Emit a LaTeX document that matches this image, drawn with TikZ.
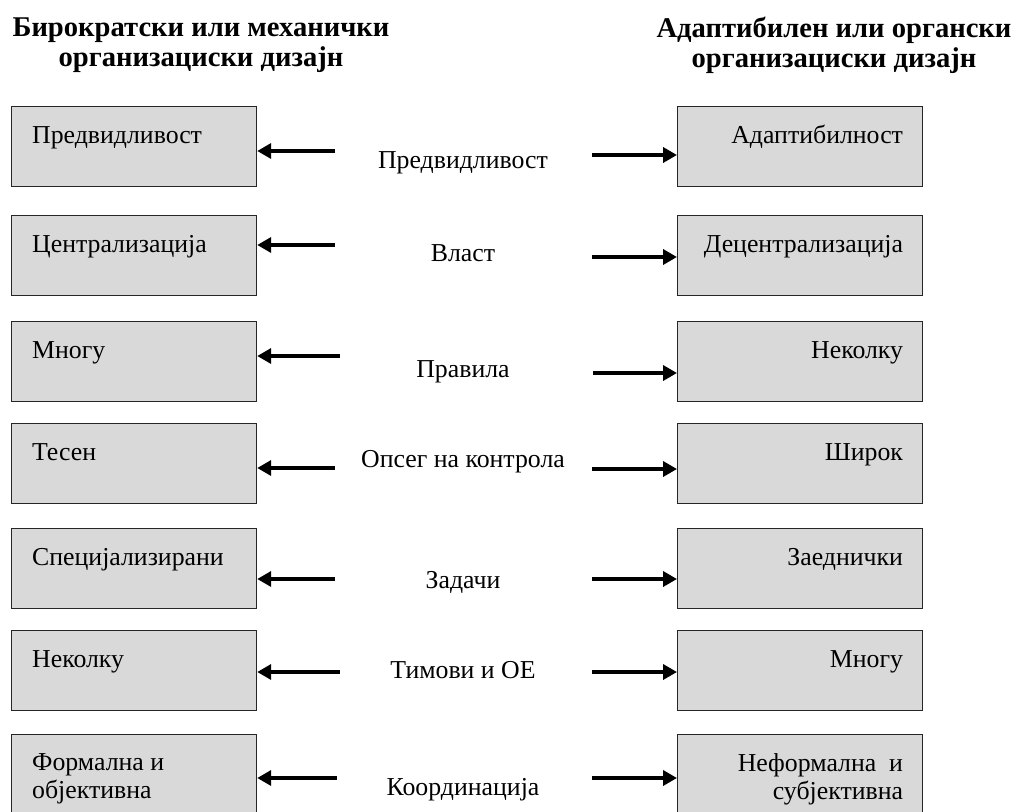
\documentclass[tikz,border=0pt]{standalone}
\usepackage{fontspec}
\setmainfont{Liberation Serif}
\usetikzlibrary{arrows.meta}

\tikzset{
	caja/.style={draw=black!85, line width=1.2pt, fill=black!15, minimum width=245pt, minimum height=80pt, anchor=north west, inner sep=0pt},
	flecha/.style={line width=3.5pt, -{Triangle[length=14pt, width=15pt]}},
	txt/.style={font=\fontsize{25.8}{28}\selectfont, inner sep=0pt},
	tit/.style={font=\fontsize{28.6}{30}\selectfont\bfseries, align=center, inner sep=0pt}
}

\begin{document}
\begin{tikzpicture}[x=1pt, y=-1pt]
		\useasboundingbox (0,0) rectangle (1014,811);
	
		% Encabezados
			\node[tit] (tizq) at (201,45) {Бирократски или механички\\организациски дизајн};
			\node[tit] (tder) at (834,45) {Адаптибилен или органски\\организациски дизајн};
	
		% Cajas izquierda
			\node[caja] (l1) at (11,106) {};
			\node[caja] (l2) at (11,215) {};
			\node[caja] (l3) at (11,321) {};
			\node[caja] (l4) at (11,423) {};
			\node[caja] (l5) at (11,528) {};
			\node[caja] (l6) at (11,630) {};
			\node[caja] (l7) at (11,734) {};
	
		% Cajas derecha
			\node[caja] (r1) at (677,106) {};
			\node[caja] (r2) at (677,215) {};
			\node[caja] (r3) at (677,321) {};
			\node[caja] (r4) at (677,423) {};
			\node[caja] (r5) at (677,528) {};
			\node[caja] (r6) at (677,630) {};
			\node[caja] (r7) at (677,734) {};
	
		% Textos en las cajas
			\node[txt, anchor=base west] (tl1) at ([xshift=21pt, yshift=-37pt]l1.north west) {Предвидливост};
			\node[txt, anchor=base west] (tl2) at ([xshift=21pt, yshift=-37pt]l2.north west) {Централизација};
			\node[txt, anchor=base west] (tl3) at ([xshift=21pt, yshift=-37pt]l3.north west) {Многу};
			\node[txt, anchor=base west] (tl4) at ([xshift=21pt, yshift=-37pt]l4.north west) {Тесен};
			\node[txt, anchor=base west] (tl5) at ([xshift=21pt, yshift=-37pt]l5.north west) {Специјализирани};
			\node[txt, anchor=base west] (tl6) at ([xshift=21pt, yshift=-37pt]l6.north west) {Неколку};
			\node[txt, anchor=north west, align=left] (tl7) at ([xshift=21pt, yshift=-19pt]l7.north west) {Формална и\\објективна};
			\node[txt, anchor=base east] (tr1) at ([xshift=-20pt, yshift=-37pt]r1.north east) {Адаптибилност};
			\node[txt, anchor=base east] (tr2) at ([xshift=-20pt, yshift=-37pt]r2.north east) {Децентрализација};
			\node[txt, anchor=base east] (tr3) at ([xshift=-20pt, yshift=-37pt]r3.north east) {Неколку};
			\node[txt, anchor=base east] (tr4) at ([xshift=-20pt, yshift=-37pt]r4.north east) {Широк};
			\node[txt, anchor=base east] (tr5) at ([xshift=-20pt, yshift=-37pt]r5.north east) {Заеднички};
			\node[txt, anchor=base east] (tr6) at ([xshift=-20pt, yshift=-37pt]r6.north east) {Многу};
			\node[txt, anchor=north east, align=right] (tr7) at ([xshift=-20pt, yshift=-19pt]r7.north east) {Неформална\ \ и\\субјективна};
	
		% Criterios
			\node[txt] (c1) at (463,163) {Предвидливост};
			\node[txt] (c2) at (463,253) {Власт};
			\node[txt] (c3) at (463,372) {Правила};
			\node[txt] (c4) at (463,462) {Опсег на контрола};
			\node[txt] (c5) at (463,582) {Задачи};
			\node[txt] (c6) at (463,670) {Тимови и ОЕ};
			\node[txt] (c7) at (463,790) {Координација};
	
		% Flechas
			\coordinate (al1) at (335,151);  \coordinate (ar1) at (592,155);
			\coordinate (al2) at (335,245);  \coordinate (ar2) at (592,257);
			\coordinate (al3) at (340,356);  \coordinate (ar3) at (593,373);
			\coordinate (al4) at (335,468);  \coordinate (ar4) at (592,469);
			\coordinate (al5) at (335,579);  \coordinate (ar5) at (592,579);
			\coordinate (al6) at (340,672);  \coordinate (ar6) at (592,672);
			\coordinate (al7) at (337,778);  \coordinate (ar7) at (592,778);
			\draw[flecha] (al1) -- (al1 -| l1.east);  \draw[flecha] (ar1) -- (ar1 -| r1.west);
			\draw[flecha] (al2) -- (al2 -| l2.east);  \draw[flecha] (ar2) -- (ar2 -| r2.west);
			\draw[flecha] (al3) -- (al3 -| l3.east);  \draw[flecha] (ar3) -- (ar3 -| r3.west);
			\draw[flecha] (al4) -- (al4 -| l4.east);  \draw[flecha] (ar4) -- (ar4 -| r4.west);
			\draw[flecha] (al5) -- (al5 -| l5.east);  \draw[flecha] (ar5) -- (ar5 -| r5.west);
			\draw[flecha] (al6) -- (al6 -| l6.east);  \draw[flecha] (ar6) -- (ar6 -| r6.west);
			\draw[flecha] (al7) -- (al7 -| l7.east);  \draw[flecha] (ar7) -- (ar7 -| r7.west);
	\end{tikzpicture}
\end{document}
